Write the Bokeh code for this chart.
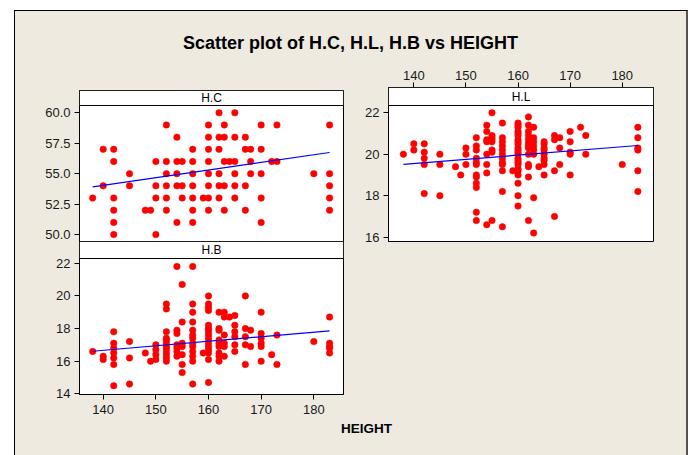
from bokeh.plotting import figure
from bokeh.layouts import column, row
from bokeh.models import (Spacer, Label, FixedTicker, PrintfTickFormatter, Range1d,
                          LinearAxis, BoxAnnotation)
from bokeh.embed import file_html
from bokeh.resources import INLINE

# ---------------- data ----------------
title_text = "Scatter plot of H.C, H.L, H.B vs HEIGHT"
x_label = "HEIGHT"
x_ticks = [140, 150, 160, 170, 180]
hc_ticks = [50.0, 52.5, 55.0, 57.5, 60.0]
hl_ticks = [16, 18, 20, 22]
hb_ticks = [14, 16, 18, 20, 22]

fit_height = [138, 183]
hc_fit = [53.92, 56.74]
hl_fit = [19.51, 20.42]
hb_fit = [16.61, 17.86]

hc_points = [
    (162, 60), (165, 60),
    (152, 59), (160, 59), (163, 59), (170, 59), (173, 59), (183, 59),
    (154, 58), (160, 58), (162, 58), (163, 58), (165, 58), (167, 58),
    (140, 57), (142, 57), (157, 57), (160, 57), (162, 57), (167, 57), (168, 57), (170, 57),
    (142, 56), (150, 56), (152, 56), (154, 56), (155, 56), (157, 56), (160, 56), (163, 56),
    (164, 56), (165, 56), (168, 56), (172, 56), (173, 56),
    (145, 55), (152, 55), (154, 55), (157, 55), (160, 55), (162, 55), (165, 55), (168, 55),
    (170, 55), (180, 55), (183, 55),
    (140, 54), (145, 54), (150, 54), (152, 54), (154, 54), (155, 54), (157, 54), (160, 54),
    (162, 54), (163, 54), (165, 54), (167, 54), (183, 54),
    (138, 53), (142, 53), (150, 53), (152, 53), (155, 53), (157, 53), (159, 53), (160, 53),
    (162, 53), (165, 53), (170, 53), (183, 53),
    (142, 52), (148, 52), (149, 52), (152, 52), (157, 52), (160, 52), (163, 52), (167, 52), (183, 52),
    (142, 51), (154, 51), (157, 51), (170, 51),
    (142, 50), (150, 50),
]

hl_points = [
    (138, 20.0),
    (140, 20.5), (140, 20.2),
    (142, 20.5), (142, 20.1), (142, 19.8), (142, 19.5), (142, 18.1),
    (145, 20.0), (145, 19.5), (145, 18.0),
    (148, 19.4), (149, 19.0),
    (150, 20.3), (150, 20.0), (150, 19.5),
    (152, 20.8), (152, 20.4), (152, 20.2), (152, 19.8), (152, 19.6), (152, 19.5),
    (152, 19.0), (152, 18.9), (152, 18.6), (152, 18.4), (152, 17.2), (152, 16.8),
    (154, 21.4), (154, 21.1), (154, 20.7), (154, 20.6), (154, 20.0), (154, 19.5),
    (154, 19.1), (154, 16.6),
    (155, 22.0), (155, 20.9), (155, 20.8), (155, 20.7), (155, 20.6), (155, 20.2),
    (155, 20.1), (155, 16.8),
    (157, 21.5), (157, 20.8), (157, 20.6), (157, 20.4), (157, 20.2), (157, 20.0),
    (157, 19.8), (157, 19.6), (157, 19.5), (157, 19.2), (157, 18.2), (157, 16.5),
    (159, 19.2),
    (160, 21.5), (160, 21.4), (160, 21.3), (160, 21.1), (160, 21.0), (160, 20.9),
    (160, 20.7), (160, 20.6), (160, 20.5), (160, 20.3), (160, 20.2), (160, 20.1),
    (160, 20.0), (160, 19.8), (160, 19.7), (160, 19.6), (160, 19.5), (160, 19.3),
    (160, 19.2), (160, 19.0), (160, 18.6), (160, 18.0), (160, 17.5),
    (162, 21.8), (162, 21.4), (162, 21.1), (162, 20.9), (162, 20.7), (162, 20.5),
    (162, 20.4), (162, 20.3), (162, 20.0), (162, 19.5), (162, 19.4), (162, 18.9), (162, 16.8),
    (163, 21.3), (163, 20.8), (163, 20.6), (163, 20.4), (163, 20.2), (163, 20.0),
    (163, 17.9), (163, 16.2),
    (164, 19.4),
    (165, 20.6), (165, 20.5), (165, 20.3), (165, 20.2), (165, 20.0), (165, 19.8),
    (165, 19.7), (165, 19.5), (165, 19.0),
    (167, 20.9), (167, 20.7), (167, 19.2), (167, 17.0),
    (168, 20.8), (168, 20.3), (168, 19.5),
    (170, 21.1), (170, 20.6), (170, 20.1), (170, 20.0), (170, 19.0),
    (172, 21.3),
    (173, 20.9), (173, 20.0),
    (180, 19.5),
    (183, 21.3), (183, 20.8), (183, 20.3), (183, 20.2), (183, 19.2), (183, 18.2),
]

hb_points = [
    (138, 16.6),
    (140, 16.3), (140, 16.1),
    (142, 17.8), (142, 17.1), (142, 16.8), (142, 16.5), (142, 16.2), (142, 15.8), (142, 14.5),
    (145, 17.2), (145, 16.2), (145, 14.6),
    (148, 16.5), (149, 16.0),
    (150, 17.0), (150, 16.7), (150, 16.4), (150, 16.1),
    (152, 19.5), (152, 19.2), (152, 17.8), (152, 17.4), (152, 17.3), (152, 17.1),
    (152, 16.9), (152, 16.8), (152, 16.6), (152, 16.4), (152, 16.2), (152, 16.0),
    (154, 21.8), (154, 17.9), (154, 17.7), (154, 17.0), (154, 16.8), (154, 16.6), (154, 16.3),
    (155, 20.7), (155, 18.4), (155, 17.1), (155, 16.9), (155, 16.4), (155, 15.8), (155, 15.3),
    (157, 21.8), (157, 19.5), (157, 19.0), (157, 18.4), (157, 17.9), (157, 17.6),
    (157, 17.4), (157, 17.1), (157, 16.9), (157, 16.6), (157, 16.3), (157, 16.0), (157, 14.6),
    (159, 16.5),
    (160, 20.0), (160, 19.5), (160, 19.3), (160, 19.1), (160, 18.2), (160, 18.0),
    (160, 17.9), (160, 17.7), (160, 17.5), (160, 17.3), (160, 17.1), (160, 16.9),
    (160, 16.7), (160, 16.5), (160, 16.1), (160, 14.7),
    (162, 19.0), (162, 18.0), (162, 17.9), (162, 17.3), (162, 17.1), (162, 16.9),
    (162, 16.5), (162, 16.3), (162, 16.0),
    (163, 19.0), (163, 18.7), (163, 17.6), (163, 17.1), (163, 16.9), (163, 16.3),
    (164, 18.7),
    (165, 18.8), (165, 18.2), (165, 17.8), (165, 17.5), (165, 17.0), (165, 16.6),
    (167, 20.0), (167, 18.0), (167, 17.5), (167, 17.0), (167, 15.8),
    (168, 17.9), (168, 16.9),
    (170, 19.0), (170, 17.7), (170, 17.4), (170, 17.1), (170, 16.9), (170, 16.0),
    (172, 16.4),
    (173, 17.6), (173, 15.8),
    (180, 17.2),
    (183, 18.7), (183, 17.1), (183, 16.9), (183, 16.8), (183, 16.5),
]

# ---------------- style ----------------
BG = "#EEEAE0"
FONT = "Liberation Sans"
RED = "#FF0000"
BLUE = "#0000FF"
PLOT_PX = 136  # height of the data area of every panel


def add_axis(p, side, ticks, fmt=None, standoff=3):
    ax = LinearAxis(ticker=FixedTicker(ticks=ticks))
    ax.major_tick_in = 0
    ax.major_tick_out = 5
    ax.minor_tick_in = 0
    ax.minor_tick_out = 0
    ax.axis_line_color = "black"
    ax.major_tick_line_color = "black"
    ax.major_label_text_font = FONT
    ax.major_label_text_font_size = "13px"
    ax.major_label_text_color = "#1a1a1a"
    ax.major_label_standoff = standoff
    if fmt:
        ax.formatter = PrintfTickFormatter(format=fmt)
    p.add_layout(ax, side)
    return ax


def panel(name, xr, y_lo, y_hi, head_px, width, left, right, top, bottom, pts, fit):
    # the strip header sits inside the frame, above the data area
    y_top = y_hi + head_px * (y_hi - y_lo) / PLOT_PX
    height = top + head_px + PLOT_PX + bottom
    p = figure(width=width, height=height, x_range=xr, y_range=Range1d(y_lo, y_top),
               output_backend="svg", toolbar_location=None,
               x_axis_location=None, y_axis_location=None,
               min_border_left=left, min_border_right=right,
               min_border_top=top, min_border_bottom=bottom)
    p.grid.visible = False
    p.background_fill_color = "white"
    p.border_fill_alpha = 0
    p.outline_line_color = "black"
    p.outline_line_width = 1
    p.add_layout(BoxAnnotation(bottom=y_hi, fill_color="white", fill_alpha=1,
                               line_color="black", line_width=1, line_alpha=1))
    p.add_layout(Label(x=(xr.start + xr.end) / 2, y=(y_hi + y_top) / 2, text=name,
                       text_align="center", text_baseline="middle",
                       text_font=FONT, text_font_size="12px", text_color="black"))
    xs = [a for a, b in pts]
    ys = [b for a, b in pts]
    p.scatter(xs, ys, size=6.5, fill_color=RED, line_color=RED, line_width=0.5)
    p.line(fit_height, fit, color=BLUE, line_width=1.2)
    return p


def text_fig(w, h, txt, x, y, size):
    p = figure(width=w, height=h, x_range=Range1d(0, w), y_range=Range1d(0, h),
               output_backend="svg", toolbar_location=None,
               x_axis_location=None, y_axis_location=None,
               min_border_left=0, min_border_right=0, min_border_top=0, min_border_bottom=0)
    p.grid.visible = False
    p.background_fill_alpha = 0
    p.border_fill_alpha = 0
    p.outline_line_color = None
    p.add_layout(Label(x=x, y=y, text=txt, text_align="center", text_baseline="middle",
                       text_font=FONT, text_font_style="bold", text_font_size=size,
                       text_color="black"))
    return p


xr_left = Range1d(135.5, 185.64)
xr_right = Range1d(135.14, 186.0)

hc_fig = panel("H.C", xr_left, 49.43, 60.6, 15, 340, 64, 12, 8, 8, hc_points, hc_fit)
add_axis(hc_fig, "left", hc_ticks, "%.1f", standoff=4)

hb_fig = panel("H.B", xr_left, 13.96, 22.29, 17, 340, 64, 12, 8, 26, hb_points, hb_fit)
add_axis(hb_fig, "left", hb_ticks, standoff=4)
add_axis(hb_fig, "below", x_ticks, standoff=5)
hb_fig.margin = (-16, 0, 0, 0)

hl_fig = panel("H.L", xr_right, 15.79, 22.35, 18, 331, 33, 33, 27, 8, hl_points, hl_fit)
add_axis(hl_fig, "left", hl_ticks, standoff=4)
add_axis(hl_fig, "above", x_ticks, standoff=3)

title_fig = text_fig(671, 49, title_text, 335, 18, "18px")
footer = text_fig(671, 35, x_label, 351, 27, "13.5px")

left_stack = column(Spacer(width=340, height=22), hc_fig, hb_fig)
right_stack = column(hl_fig)
mid = row(left_stack, right_stack)
container = column(title_fig, mid, footer,
                   styles={"background-color": BG, "border-top": "1px solid #000",
                           "border-left": "1px solid #000", "border-right": "2px solid #555"})
page = column(Spacer(width=688, height=10), row(Spacer(width=14, height=445), container))

open("out.html", "w").write(file_html(page, INLINE, title="Scatter plot"))
